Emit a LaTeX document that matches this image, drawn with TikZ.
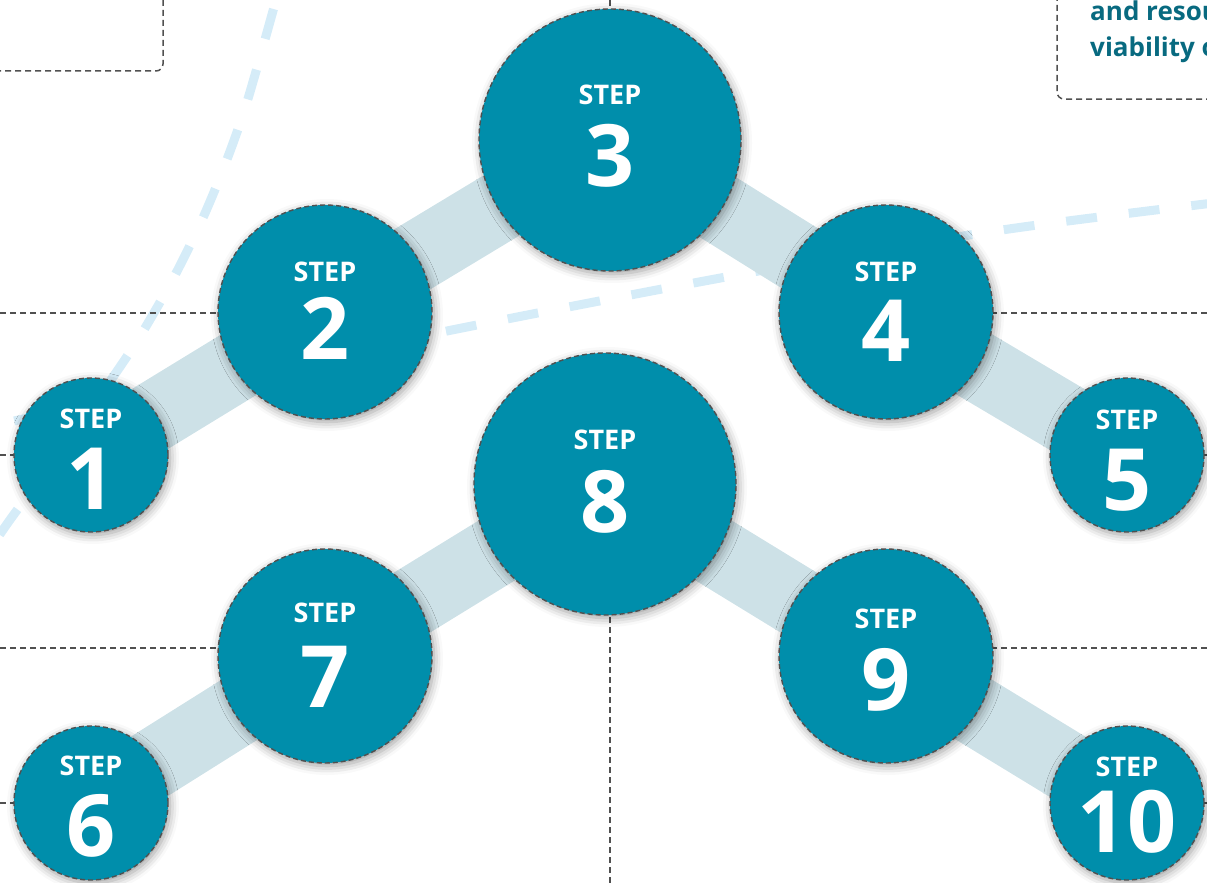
\documentclass[tikz,border=0pt]{standalone}
\usepackage{fontspec}
\setmainfont{Open Sans}
\usetikzlibrary{shadows.blur}
\definecolor{stepfill}{RGB}{0,142,171}
\definecolor{bandcol}{RGB}{205,225,231}
\definecolor{lightblue}{RGB}{213,236,248}
\definecolor{graydash}{RGB}{80,80,80}
\definecolor{textteal}{RGB}{8,106,128}
\pgfdeclarelayer{lines}
\pgfdeclarelayer{bands}
\pgfsetlayers{lines,bands,main}
\newcommand{\mystep}[7]{%
  \node[#4] (#1) at (#2,#3) {};
  \node[steplbl] (#1s) at ([yshift=#6pt]#1.center) {STEP};
  \node[numlbl] (#1n) at ([yshift=-#7pt]#1.center) {#5};
}
\begin{document}
\begin{tikzpicture}[x=1pt,y=-1pt,
  stepcircle/.style={circle, fill=stepfill, draw=graydash, line width=1.4pt,
    dash pattern=on 5pt off 3pt, inner sep=0pt,
    blur shadow={shadow xshift=2pt, shadow yshift=-3pt, shadow blur radius=9pt, shadow opacity=40}},
  bigc/.style={stepcircle, minimum size=262pt},
  midc/.style={stepcircle, minimum size=214pt},
  smallc/.style={stepcircle, minimum size=154pt},
  steplbl/.style={text=white, inner sep=0pt, font=\bfseries\fontsize{27}{27}\selectfont},
  numlbl/.style={text=white, inner sep=0pt, font=\bfseries\fontsize{86}{86}\selectfont},
  guide/.style={draw=graydash, line width=1.5pt, dash pattern=on 6pt off 4pt},
  bluedash/.style={draw=lightblue, line width=9pt, dash pattern=on 31pt off 32pt},
  band/.style={draw=bandcol, line width=70pt},
  boxtext/.style={anchor=base west, inner sep=0pt, text=textteal, font=\bfseries\fontsize{26}{30}\selectfont}
]
\useasboundingbox (0,0) rectangle (1207,883);
\clip (0,0) rectangle (1207,883);

% circles and labels
\mystep{n1}{91}{455}{smallc}{1}{36}{24}
\mystep{n2}{325}{312}{midc}{2}{40}{16}
\mystep{n3}{610}{140}{bigc}{3}{45}{16}
\mystep{n4}{886}{312}{midc}{4}{40}{19}
\mystep{n5}{1127}{455}{smallc}{5}{35}{25}
\mystep{n6}{91}{803}{smallc}{6}{37}{23}
\mystep{n7}{325}{656}{midc}{7}{43}{21}
\mystep{n8}{605}{484}{bigc}{8}{44}{18}
\mystep{n9}{886}{656}{midc}{9}{37}{24}
\mystep{n10}{1127}{803}{smallc}{10}{36}{19}

% edge coordinates
\coordinate (eL2) at (0,313);
\coordinate (eR4) at (1207,313);
\coordinate (eL1) at (0,455);
\coordinate (eR5) at (1207,455);
\coordinate (eL7) at (0,648);
\coordinate (eR9) at (1207,648);
\coordinate (eL6) at (0,803);
\coordinate (eR10) at (1207,803);
\coordinate (eT3) at (610,0);
\coordinate (eB8) at (610,883);

\begin{pgfonlayer}{lines}
  % light blue dashed curves
  \draw[bluedash] plot[smooth] coordinates {(273.5,9) (247,102) (226,162) (202,220) (174,277) (142,333) (113,377) (60,452) (12,517) (-8,546)};
  \draw[bluedash] plot[smooth] coordinates {(1222,202) (1002,230) (753,272) (437,333) (-10,426)};
  % grey dashed guides
  \draw[guide] (eL2) -- (eL2 -| n2.center);
  \draw[guide] (eR4) -- (eR4 -| n4.center);
  \draw[guide] (eL1) -- (eL1 -| n1.center);
  \draw[guide] (eR5) -- (eR5 -| n5.center);
  \draw[guide] (eL7) -- (eL7 -| n7.center);
  \draw[guide] (eR9) -- (eR9 -| n9.center);
  \draw[guide] (eL6) -- (eL6 -| n6.center);
  \draw[guide] (eR10) -- (eR10 -| n10.center);
  \draw[guide] (eT3) -- (eT3 |- n3.center);
  \draw[guide] (eB8) -- (eB8 |- n8.center);
  % boxes
  \draw[guide, rounded corners=7pt] (-5,71) -- (163,71) -- (163,-5);
  \draw[guide, rounded corners=7pt] (1057,-5) -- (1057,99) -- (1212,99);
\end{pgfonlayer}

\begin{pgfonlayer}{bands}
  \draw[band] (n1.center) -- (n2.center);
  \draw[band] (n2.center) -- (n3.center);
  \draw[band] (n3.center) -- (n4.center);
  \draw[band] (n4.center) -- (n5.center);
  \draw[band] (n6.center) -- (n7.center);
  \draw[band] (n7.center) -- (n8.center);
  \draw[band] (n8.center) -- (n9.center);
  \draw[band] (n9.center) -- (n10.center);
\end{pgfonlayer}

\node[boxtext] (t1) at (1090,21) {and resou};
\node[boxtext] (t2) at (1090,57) {viability o};
\end{tikzpicture}
\end{document}
